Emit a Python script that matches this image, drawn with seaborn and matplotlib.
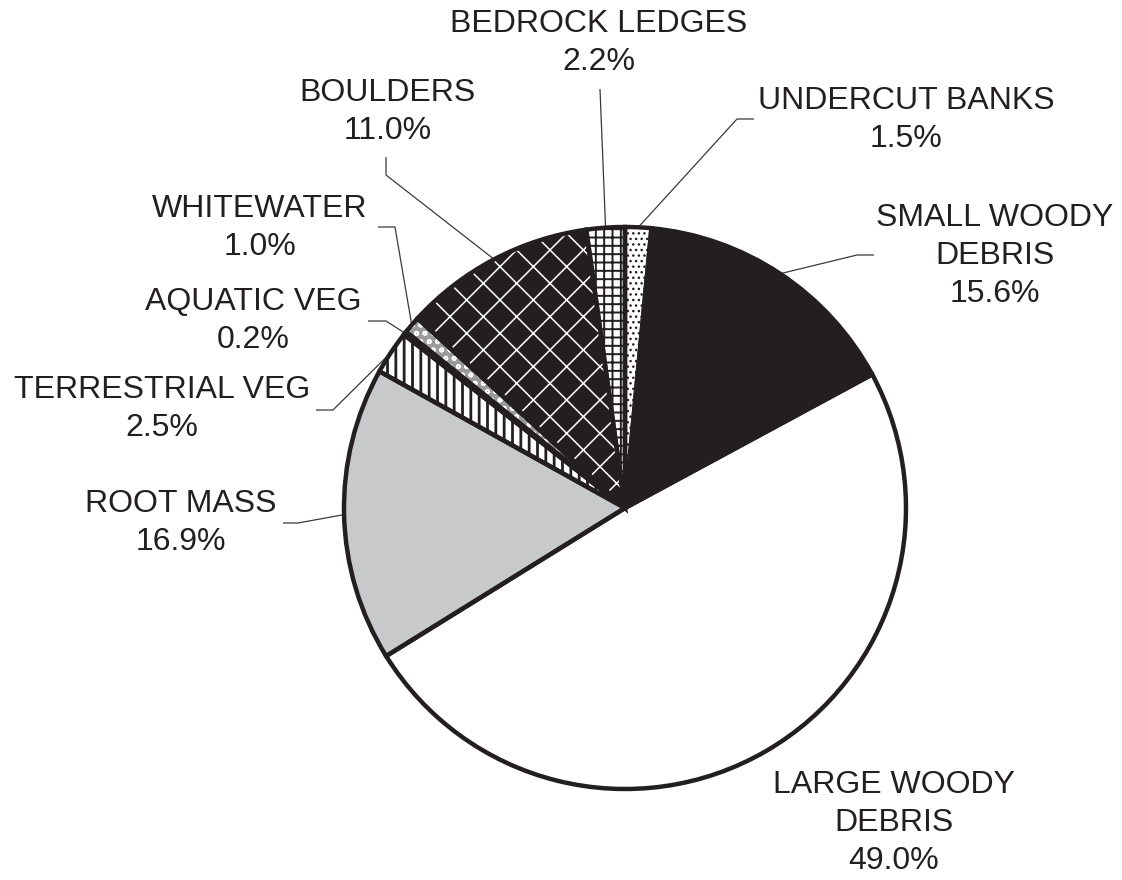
import numpy as np
import matplotlib
matplotlib.use("Agg")
import matplotlib.pyplot as plt
import seaborn as sns

# Habitat cover types, clockwise from 12 o'clock
categories = ["UNDERCUT BANKS", "SMALL WOODY\nDEBRIS", "LARGE WOODY\nDEBRIS", "ROOT MASS",
              "TERRESTRIAL VEG", "AQUATIC VEG", "WHITEWATER", "BOULDERS", "BEDROCK LEDGES"]
shares = [1.5, 15.6, 49.0, 16.9, 2.5, 0.2, 1.0, 11.0, 2.2]

# Fill styling per wedge
fills = ["white", "#231f20", "white", "#c8c9cb", "white", "#231f20", "#9b9b9b", "#231f20", "white"]
hatches = ["...", "", "", "", "||", "", "oo", "x", "++"]
hatch_colors = ["#231f20", "#231f20", "#231f20", "#231f20", "#231f20", "#231f20",
                "white", "white", "#231f20"]
hatch_widths = [1.0, 1.0, 1.0, 1.0, 2.0, 1.0, 1.2, 1.1, 1.4]

# Label block centres and leader elbows, in canvas pixels (origin top-left)
label_pos = [(906, 120), (995, 256), (894, 823), (181, 523), (162, 409),
             (253, 321), (260, 228), (388, 112), (599, 43)]
leader_pts = [[(737, 119), (754, 119)],
              [(857, 255), (874, 255)],
              [],
              [(298, 523), (283, 523)],
              [(333, 410), (316, 410)],
              [(386, 321), (368, 321)],
              [(395, 227), (378, 227)],
              [(386, 175), (386, 157)],
              [(600, 89)]]

W, H = 1122, 880
CX, CY, R = 625, 508, 281
INK = "#231f20"

sns.set_theme(style="white")
plt.rcParams["font.family"] = ["Liberation Sans", "DejaVu Sans"]

fig = plt.figure(figsize=(W / 100, H / 100), dpi=100)
ax = fig.add_axes([0, 0, 1, 1])


def to_data(p):
    return p[0], H - p[1]


# Filled / hatched wedges
wedges, _ = ax.pie(shares, startangle=90, counterclock=False,
                   center=(CX, H - CY), radius=R,
                   wedgeprops=dict(linewidth=0))
for w, fc, ht, hc, hw in zip(wedges, fills, hatches, hatch_colors, hatch_widths):
    w.set_facecolor(fc)
    w.set_edgecolor(hc)
    w.set_linewidth(0)
    if hasattr(w, "set_hatch_linewidth"):
        w.set_hatch_linewidth(hw)
    if ht:
        w.set_hatch(ht)

# Heavy outlines on top
outline, _ = ax.pie(shares, startangle=90, counterclock=False,
                    center=(CX, H - CY), radius=R,
                    wedgeprops=dict(facecolor="none", edgecolor=INK, linewidth=3.2))

# Labels and leader lines
for w, name, share, pos, pts in zip(wedges, categories, shares, label_pos, leader_pts):
    x, y = to_data(pos)
    ax.text(x, y, f"{name}\n{share:.1f}%", ha="center", va="center",
            multialignment="center", fontsize=23, color=INK, linespacing=1.33)
    if pts:
        mid = np.deg2rad((w.theta1 + w.theta2) / 2)
        ax_ = CX + R * np.cos(mid)
        ay_ = (H - CY) + R * np.sin(mid)
        xs = [ax_] + [to_data(p)[0] for p in pts]
        ys = [ay_] + [to_data(p)[1] for p in pts]
        ax.plot(xs, ys, color="#3a3a3a", lw=0.9, solid_capstyle="butt", zorder=0.5)

ax.set_xlim(0, W)
ax.set_ylim(0, H)
ax.set_aspect("equal")
ax.axis("off")
fig.savefig("out.png", dpi=100, facecolor="white")
